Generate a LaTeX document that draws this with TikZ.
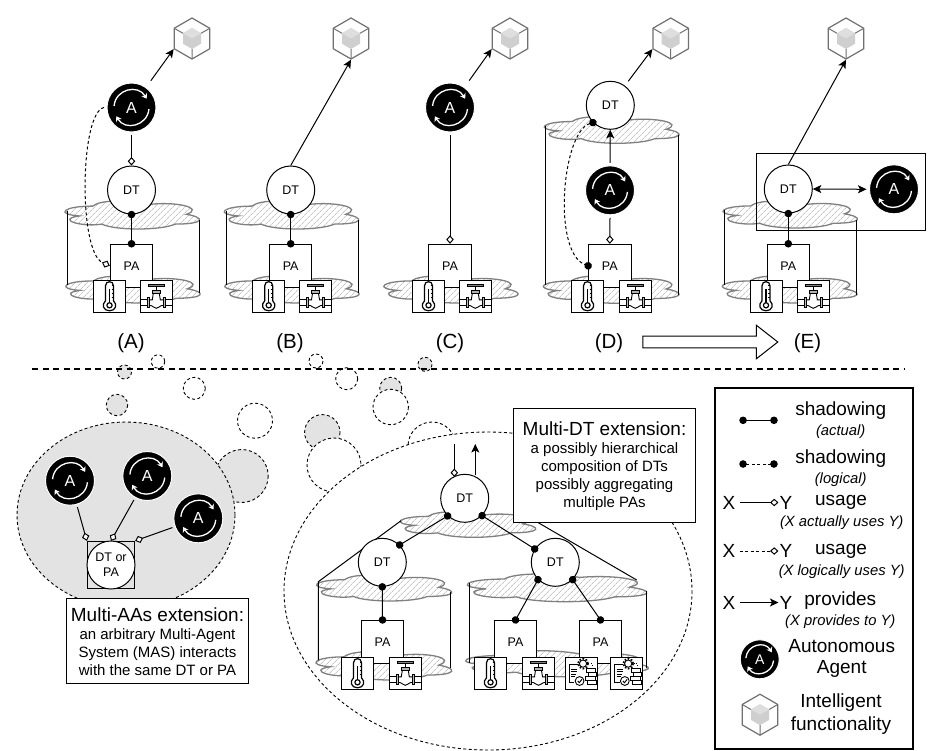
\documentclass[tikz,border=0pt]{standalone}
\usepackage{fontspec}
\setmainfont{Liberation Sans}
\usetikzlibrary{arrows.meta,patterns.meta,shapes.geometric,shapes.arrows}

\definecolor{cubeline}{HTML}{707070}
\definecolor{bubblefill}{HTML}{E3E3E3}

\newcommand{\fsz}[1]{\fontsize{#1}{1.2\dimexpr#1pt\relax}\selectfont}

\newcommand{\cubeicon}{%
  \begin{scope}[shift={(path picture bounding box.center)}]
    \fill[gray!38] (0,-10.5) -- (9,-5.2) -- (9,5.2) -- (0,10.5) -- (-9,5.2) -- (-9,-5.2) -- cycle;
    \fill[gray!26] (0,-10.5) -- (9,-5.2) -- (0,0) -- (-9,-5.2) -- cycle;
    \draw[cubeline, line width=1pt] (-17.7,-10.2) -- (-9,-5.2) (17.7,-10.2) -- (9,-5.2) (0,20.5) -- (0,10.5);
  \end{scope}}

\newcommand{\thermoicon}{%
  \begin{scope}[shift={(path picture bounding box.center)}, line width=1.2pt]
    \draw (-4,4.5) -- (-4,-10.5) .. controls (-4,-16) and (4,-16) .. (4,-10.5) -- (4,4.5)
      .. controls (8,8) and (6.5,14.5) .. (0,14.5) .. controls (-6.5,14.5) and (-8,8) .. (-4,4.5) -- cycle;
    \draw (0,9) circle[radius=2.6];
    \draw (0,6.4) -- (0,-7);
    \draw[line width=.6pt] (2,-11) -- (4,-11) (2,-7) -- (4,-7) (2,-3) -- (4,-3) (2,1) -- (4,1);
  \end{scope}}

\newcommand{\valveicon}{%
  \begin{scope}[shift={(path picture bounding box.center)}, line width=.9pt]
    \draw[fill=gray] (-8,-11.5) rectangle (8,-9.5);
    \draw (0,-9.5) -- (0,-6);
    \draw[fill=gray!60] (-4,-6) rectangle (4,-3);
    \draw (-16,3.5) -- (-9,3.5) (-16,9) -- (-9,9) (16,3.5) -- (9,3.5) (16,9) -- (9,9);
    \draw[fill=gray!50] (-9,1.5) rectangle (-7,11) (7,1.5) rectangle (9,11);
    \draw (-7,3.5) -- (-4,3.5) -- (-3,-3) (3,-3) -- (4,3.5) -- (7,3.5);
    \draw (-7,9) .. controls (-3,9) and (-3,12) .. (0,12) .. controls (3,12) and (3,9) .. (7,9);
  \end{scope}}

\newcommand{\gearsicon}{%
  \begin{scope}[shift={(path picture bounding box.center)}, line width=.9pt]
    \draw (1.7,-9.7) circle[radius=3.6];
    \draw[line width=1.8pt, dash pattern=on 1.6pt off 1.6pt] (1.7,-9.7) circle[radius=5];
    \draw (-3.5,-9) -- (-12,-9) -- (-12,9) -- (-7,9);
    \draw[line width=1pt] (-10,-4) -- (-4,-4) (-10,-1.5) -- (-4,-1.5) (-10,1) -- (-5,1) (-10,3.5) -- (-6,3.5);
    \draw (-1.7,7.7) circle[radius=4.4];
    \draw (-3.6,7.7) -- (-2,9.4) -- (0.6,6);
    \draw[dotted] (7,-9.7) -- (11,-9.7) -- (11,-5);
    \draw (5,-4.5) rectangle (14,-1) (7,-1) rectangle (15,3) (4,3) rectangle (14,7) (6,7) rectangle (15,11);
  \end{scope}}

\tikzset{
  arcsic/.pic={
    \draw[white, line width=1.3pt, -{Stealth[length=5pt,width=6.5pt]}] (-17.43,-1.53) .. controls (-15.94,-18.56) and (6.61,-23.56) .. (15.16,-8.75);
    \draw[white, line width=1.3pt, -{Stealth[length=5pt,width=6.5pt]}] (17.43,1.53) .. controls (15.94,18.56) and (-6.61,23.56) .. (-15.16,8.75);
  },
  dtnode/.style={circle, draw, fill=white, minimum size=48pt, inner sep=0pt, line width=1pt, font=\fsz{12.5}},
  panode/.style={rectangle, draw, fill=white, minimum width=42.4pt, minimum height=43pt, inner sep=0pt, line width=1pt, font=\fsz{12.5}},
  agentic/.style={circle, fill=black, draw=white, line width=1pt, text=white, minimum size=#1 pt, inner sep=0pt, outer sep=3pt, font=\fsz{16}, append after command={pic[scale=#1/49] at (\tikzlastnode.center) {arcsic}}},
  agentic/.default=49,
  cubeic/.style={regular polygon, regular polygon sides=6, shape border rotate=30, draw=cubeline, fill=white, line width=1.2pt, minimum size=41pt, inner sep=0pt, path picture={\cubeicon}},
  iconbox/.style={rectangle, draw, fill=white, minimum size=32pt, inner sep=0pt, line width=1pt},
  thermo/.style={iconbox, path picture={\thermoicon}},
  valve/.style={iconbox, path picture={\valveicon}},
  gears/.style={iconbox, path picture={\gearsicon}},
  shadowing/.style={{Circle[length=7.5pt]}-{Circle[length=7.5pt]}, line width=1pt, shorten <=-3.7pt, shorten >=-3.7pt},
  logical/.style={shadowing, dash pattern=on 3pt off 2.5pt},
  usage/.style={-{Diamond[length=8.5pt,width=7.5pt,fill=white]}, line width=1pt},
  usagelog/.style={usage, dash pattern=on 3pt off 2.5pt},
  provides/.style={-{Stealth[length=8.5pt,width=8pt,inset=2pt]}, line width=1pt},
  noteb/.style={rectangle, draw, fill=white, line width=1pt, inner sep=0pt},
  notetitle/.style={inner sep=0pt, font=\fsz{19}},
  notebody/.style={inner sep=0pt, align=center, font=\fsz{15}},
  panellab/.style={font=\fsz{20.5}},
  legbig/.style={inner sep=1pt, font=\fsz{19}},
  legsmall/.style={inner sep=1pt, font=\fsz{14.8}\itshape},
  bubble/.style={draw, line width=.9pt, dash pattern=on 3pt off 2.5pt},
  bubblegrey/.style={bubble, fill=bubblefill},
  cyl/.style={line width=1pt},
  cloudy/.pic={
    \path[draw=gray, line width=1.3pt, pattern={Lines[angle=45,distance=4pt,line width=.5pt]}, pattern color=gray!70]
      (.202,.182) .. controls (-.022,.182) and (-.079,.474) .. (.101,.533)
      .. controls (-.079,.661) and (.124,.942) .. (.270,.825)
      .. controls (.371,1.058) and (.708,1.058) .. (.820,.825)
      .. controls (1.045,.825) and (1.045,.591) .. (.904,.474)
      .. controls (1.045,.241) and (.820,.007) .. (.624,.124)
      .. controls (.483,-.051) and (.258,-.051) .. (.202,.182) -- cycle;
  }
}

\begin{document}
\begin{tikzpicture}[x=1pt, y=-1pt]
  \useasboundingbox (0,0) rectangle (928,750);

  % panel A
  \pic[xscale=133.6, yscale=28] at (65.7,201) {cloudy};
  \pic[xscale=133.6, yscale=27] at (66.5,276) {cloudy};
  \draw[cyl] (67,211) -- (67,285);
  \draw[cyl] (199.7,220) -- (199.7,293);
  \node[cubeic] (cuA) at (192,38.5) {};
  \node[agentic] (agA) at (131.5,107.5) {A};
  \node[dtnode] (dtA) at (131.5,190) {DT};
  \node[panode] (paA) at (131.5,265.8) {PA};
  \node[thermo] (thA) at (109.5,296.3) {};
  \node[valve] (vaA) at (156.3,296.3) {};
  \draw[provides, shorten <=5.5pt] (agA) -- (cuA.210);
  \draw[usage] (agA.south) -- (dtA.north);
  \draw[shadowing] (dtA.south) -- (paA.north);
  \draw[usagelog] (agA.west) .. controls (80,112) and (78,252) .. (paA.west);

  % panel B
  \pic[xscale=133.6, yscale=28] at (225,201) {cloudy};
  \pic[xscale=133.6, yscale=27] at (225.5,276) {cloudy};
  \draw[cyl] (226.5,211) -- (226.5,285);
  \draw[cyl] (358.5,220) -- (358.5,293);
  \node[cubeic] (cuB) at (351,38.5) {};
  \node[dtnode] (dtB) at (290.7,190) {DT};
  \node[panode] (paB) at (290.7,265.8) {PA};
  \node[thermo] (thB) at (268.7,296.3) {};
  \node[valve] (vaB) at (315.5,296.3) {};
  \draw[provides] (dtB.north) -- (cuB.south);
  \draw[shadowing] (dtB.south) -- (paB.north);

  % panel C
  \pic[xscale=133.6, yscale=27] at (384.5,276) {cloudy};
  \node[cubeic] (cuC) at (510,38.5) {};
  \node[agentic] (agC) at (450,107.5) {A};
  \node[panode] (paC) at (450,265.8) {PA};
  \node[thermo] (thC) at (428.5,296.3) {};
  \node[valve] (vaC) at (475.3,296.3) {};
  \draw[provides, shorten <=5.5pt] (agC) -- (cuC.210);
  \draw[usage] (agC.south) -- (paC.north);

  % panel D
  \pic[xscale=134, yscale=26.6] at (545,116.7) {cloudy};
  \pic[xscale=135, yscale=27.3] at (544,276) {cloudy};
  \draw[cyl] (545.3,126) -- (545.3,285);
  \draw[cyl] (678.3,135) -- (678.3,295);
  \node[cubeic] (cuD) at (670.7,38.5) {};
  \node[dtnode] (dtD) at (610.3,105.3) {DT};
  \node[agentic] (agD) at (610,190.3) {A};
  \node[panode] (paD) at (609.8,265.8) {PA};
  \node[thermo] (thD) at (587.5,296.3) {};
  \node[valve] (vaD) at (635.3,296.3) {};
  \draw[provides, shorten <=5.5pt] (dtD) -- (cuD.210);
  \draw[provides] (agD.north) -- (dtD.south);
  \draw[usage] (agD.south) -- (paD.north);
  \draw[logical] (dtD.225) .. controls (562,132) and (552,252) .. (paD.west);

  % panel E
  \pic[xscale=133.6, yscale=27] at (723.7,201) {cloudy};
  \pic[xscale=134, yscale=27] at (723,276) {cloudy};
  \draw[cyl] (724,210) -- (724,285);
  \draw[cyl] (856.3,220) -- (856.3,295);
  \node[rectangle, draw, line width=1pt, minimum width=168.7pt, minimum height=77pt, inner sep=0pt] (bxE) at (840.7,191.8) {};
  \node[cubeic] (cuE) at (846,38.5) {};
  \node[dtnode] (dtE) at (788.3,189) {DT};
  \node[agentic] (agE) at (894,189.3) {A};
  \node[panode] (paE) at (788.3,265.8) {PA};
  \node[thermo] (thE) at (766,296.3) {};
  \node[valve] (vaE) at (813.3,296.3) {};
  \draw[provides] (dtE.north) -- (cuE.south);
  \draw[{Stealth[length=8.5pt,width=8pt,inset=2pt]}-{Stealth[length=8.5pt,width=8pt,inset=2pt]}, line width=1pt] (dtE.east) -- (agE.west);
  \draw[shadowing] (dtE.south) -- (paE.north);

  % panel labels
  \node[panellab] (lbA) at (131,343) {(A)};
  \node[panellab] (lbB) at (290,343) {(B)};
  \node[panellab] (lbC) at (450,343) {(C)};
  \node[panellab] (lbD) at (609,343) {(D)};
  \node[panellab] (lbE) at (807.5,343) {(E)};
  \node[single arrow, draw, fill=white, line width=1pt, anchor=tail, inner sep=5.3pt, minimum height=135pt, single arrow head extend=11pt, single arrow tip angle=76] (evol) at (642.3,342) {};

  % bubbles
  \draw[bubblegrey] (124.5,372) circle[radius=7];
  \draw[bubble] (158,361.5) circle[radius=6.7];
  \draw[bubblegrey] (117,405) circle[radius=10.7];
  \draw[bubble] (194.3,388.3) circle[radius=11];
  \draw[bubble] (255,420.7) circle[radius=17.5];
  \draw[bubblegrey] (241.7,476) circle[radius=26.5];
  \draw[bubble] (316,361) circle[radius=7];
  \draw[bubble] (346.7,378.7) circle[radius=11];
  \draw[bubblegrey] (390.7,388.3) circle[radius=11];
  \draw[bubblegrey] (425,364.3) circle[radius=7];
  \draw[bubblegrey] (322.3,432.3) circle[radius=17.7];
  \draw[bubble, fill=white] (334,465) circle[radius=27];
  \draw[bubble, fill=white] (390.7,407) circle[radius=17.7];
  \draw[bubble] (432,446) circle[radius=24];
  \draw[line width=2pt, dash pattern=on 6pt off 4.5pt] (32,369) -- (905,369);

  % multi-AAs extension
  \draw[bubblegrey] (126,515) ellipse[x radius=109, y radius=93];
  \node[rectangle, draw, line width=1pt, minimum size=47.3pt, inner sep=0pt] (bxMas) at (111,565) {};
  \node[dtnode, align=center] (dtMas) at (111,565) {DT or\\PA};
  \node[agentic] (agM1) at (70,480.7) {A};
  \node[agentic] (agM2) at (147.3,476) {A};
  \node[agentic] (agM3) at (198.3,518.3) {A};
  \draw[usage] (agM1) -- (bxMas.north west);
  \draw[usage] (agM2) -- (bxMas.north);
  \draw[usage] (agM3) -- (bxMas.north east);
  \node[noteb, minimum width=182.4pt, minimum height=85pt] (noteMas) at (157.5,640.8) {};
  \node[notetitle] (ttlMas) at (157.5,614.5) {Multi-AAs extension:};
  \node[notebody] (txtMas) at (157.5,652.5) {an arbitrary Multi-Agent\\System (MAS) interacts\\with the same DT or PA};

  % multi-DT extension
  \draw[bubble, fill=white] (488,591) ellipse[x radius=204, y radius=159];
  \pic[xscale=134.7, yscale=25.6] at (401,511.7) {cloudy};
  \pic[xscale=134.4, yscale=26] at (317.3,575) {cloudy};
  \pic[xscale=135, yscale=28.3] at (316.7,651.7) {cloudy};
  \pic[xscale=178.4, yscale=27.7] at (468.3,574) {cloudy};
  \pic[xscale=181.6, yscale=26] at (466.7,650.7) {cloudy};
  \draw[cyl] (401,520.7) -- (318.3,581.7) -- (318.3,660);
  \draw[cyl] (450.7,591.7) -- (450.7,668);
  \draw[cyl] (538.3,522.7) -- (636.7,580);
  \draw[cyl] (469,583) -- (469,663);
  \draw[cyl] (646.7,590.7) -- (646.7,668);
  \node[dtnode] (dtTop) at (464.7,498.3) {DT};
  \node[dtnode] (dtLeft) at (382.3,562.3) {DT};
  \node[dtnode] (dtRight) at (555.3,562.3) {DT};
  \node[panode] (paL) at (382.5,642) {PA};
  \node[panode] (paR1) at (515.5,642) {PA};
  \node[panode] (paR2) at (600.5,642) {PA};
  \node[thermo] (thL) at (357.5,673.3) {};
  \node[valve] (vaL) at (405.3,673.3) {};
  \node[thermo] (thR) at (490.5,673.3) {};
  \node[valve] (vaR) at (538.5,673.3) {};
  \node[gears] (geR1) at (581.3,673.3) {};
  \node[gears] (geR2) at (626.5,673.3) {};
  \coordinate (useIn) at (454.3,443.5);
  \coordinate (useEnd) at (454.3,477);
  \coordinate (provEnd) at (475.3,444);
  \coordinate (provStart) at (475.3,474.5);
  \draw[usage] (useIn) -- (useEnd);
  \draw[provides] (provStart) -- (provEnd);
  \draw[shadowing] (dtTop.226) -- (dtLeft.45);
  \draw[shadowing] (dtTop.315) -- (dtRight.147);
  \draw[shadowing] (dtLeft.south) -- (paL.north);
  \draw[shadowing] (dtRight.225) -- (paR1.north);
  \draw[shadowing] (dtRight.315) -- (paR2.north);
  \node[noteb, minimum width=182.4pt, minimum height=114pt] (noteDt) at (604.5,465.3) {};
  \node[notetitle] (ttlDt) at (604.5,428.5) {Multi-DT extension:};
  \node[notebody] (txtDt) at (604.5,477) {a possibly hierarchical\\composition of DTs\\possibly aggregating\\multiple PAs};

  % legend
  \node[rectangle, draw, line width=2pt, minimum width=198.6pt, minimum height=361.3pt, inner sep=0pt] (lgBox) at (814,568.6) {};
  \coordinate (lgSa) at (743,420.3);
  \coordinate (lgSb) at (774,420.3);
  \coordinate (lgLa) at (743,464);
  \coordinate (lgLb) at (774,464);
  \draw[shadowing] (lgSa) -- (lgSb);
  \draw[logical] (lgLa) -- (lgLb);
  \node[legbig] (lgT1) at (840.7,410.5) {shadowing};
  \node[legsmall] (lgN1) at (840.7,431.5) {(actual)};
  \node[legbig] (lgT2) at (840.7,458.2) {shadowing};
  \node[legsmall] (lgN2) at (840.7,479.8) {(logical)};
  \node[legbig] (lgXa) at (729,502.5) {X};
  \node[legbig] (lgYa) at (786,502.5) {Y};
  \draw[usage] ([xshift=3pt]lgXa.east) -- (lgYa.west);
  \node[legbig] (lgT3) at (841,502) {usage};
  \node[legsmall] (lgN3) at (841.7,522.5) {(X actually uses Y)};
  \node[legbig] (lgXb) at (729,551) {X};
  \node[legbig] (lgYb) at (786,551) {Y};
  \draw[usagelog] ([xshift=3pt]lgXb.east) -- (lgYb.west);
  \node[legbig] (lgT4) at (841,551) {usage};
  \node[legsmall] (lgN4) at (841.7,571.5) {(X logically uses Y)};
  \node[legbig] (lgXc) at (729,602.5) {X};
  \node[legbig] (lgYc) at (786,602.5) {Y};
  \draw[provides] ([xshift=3pt]lgXc.east) -- (lgYc.west);
  \node[legbig] (lgT5) at (840.3,601) {provides};
  \node[legsmall] (lgN5) at (840.3,621.8) {(X provides to Y)};
  \node[agentic=39, font=\fsz{14}] (lgAg) at (759.7,659.3) {A};
  \node[legbig] (lgT6) at (841.7,646.5) {Autonomous};
  \node[legbig] (lgT7) at (841.7,669.2) {Agent};
  \node[cubeic] (lgCu) at (760,714.7) {};
  \node[legbig] (lgT8) at (841,702.2) {Intelligent};
  \node[legbig] (lgT9) at (841,725.2) {functionality};
\end{tikzpicture}
\end{document}
